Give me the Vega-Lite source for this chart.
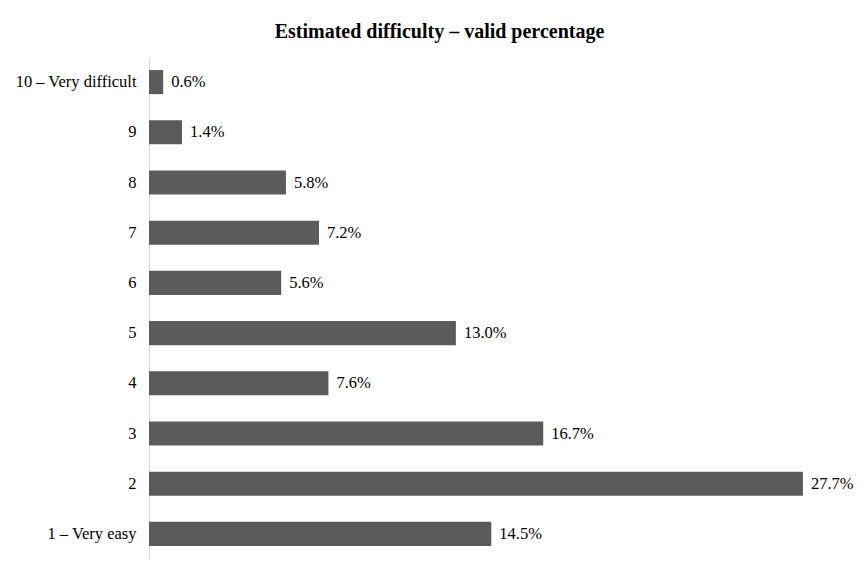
{
  "$schema": "https://vega.github.io/schema/vega-lite/v6.json",
  "autosize": "none",
  "width": 661,
  "height": 502,
  "padding": {"left": 149, "top": 57, "right": 57, "bottom": 2},
  "background": "white",
  "title": {
    "text": "Estimated difficulty – valid percentage",
    "font": "Liberation Serif",
    "fontSize": 20,
    "fontWeight": "bold",
    "color": "#000000",
    "anchor": "middle",
    "dx": -40,
    "offset": 15
  },
  "data": {
    "values": [
      {"label": "10 – Very difficult", "rank": 10, "share": 0.006},
      {"label": "9", "rank": 9, "share": 0.014},
      {"label": "8", "rank": 8, "share": 0.058},
      {"label": "7", "rank": 7, "share": 0.072},
      {"label": "6", "rank": 6, "share": 0.056},
      {"label": "5", "rank": 5, "share": 0.130},
      {"label": "4", "rank": 4, "share": 0.076},
      {"label": "3", "rank": 3, "share": 0.167},
      {"label": "2", "rank": 2, "share": 0.277},
      {"label": "1 – Very easy", "rank": 1, "share": 0.145}
    ]
  },
  "encoding": {
    "y": {
      "field": "label",
      "type": "nominal",
      "sort": {"field": "rank", "order": "descending"},
      "scale": {"paddingInner": 0.52, "paddingOuter": 0.26},
      "axis": {
        "title": null,
        "ticks": false,
        "labelPadding": 13,
        "labelFont": "Liberation Serif",
        "labelFontSize": 16.5,
        "labelColor": "#000000",
        "domainColor": "#d9d9d9",
        "domainWidth": 1
      }
    },
    "x": {
      "field": "share",
      "type": "quantitative",
      "scale": {"domain": [0, 0.28], "nice": false},
      "axis": null
    }
  },
  "layer": [
    {"mark": {"type": "bar", "color": "#5b5b5b"}},
    {
      "mark": {"type": "text", "align": "left", "dx": 8, "font": "Liberation Serif", "fontSize": 16.5, "color": "#000000"},
      "encoding": {"text": {"field": "share", "type": "quantitative", "format": ".1%"}}
    }
  ],
  "config": {"view": {"stroke": null}}
}
